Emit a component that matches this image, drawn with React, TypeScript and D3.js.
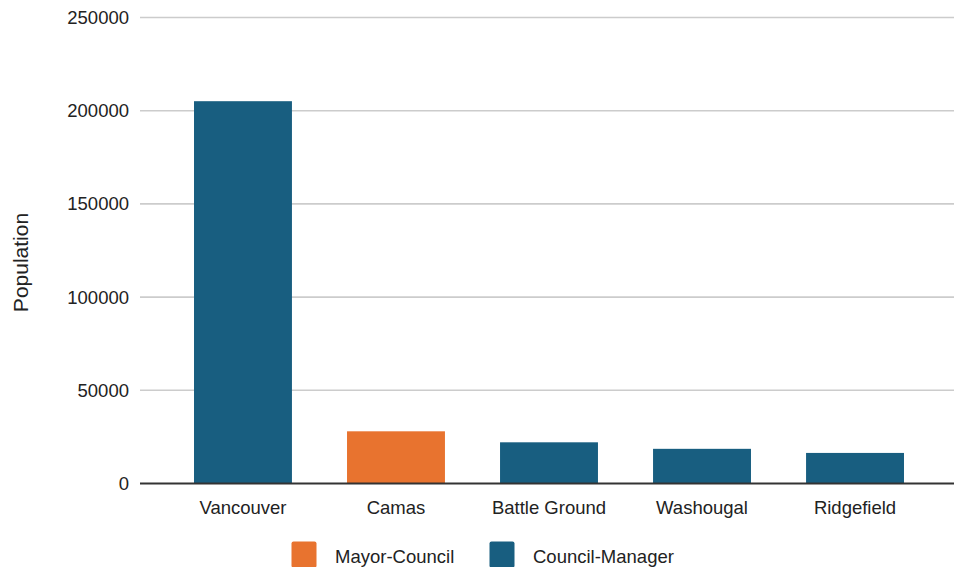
import React from "react";
import * as d3 from "d3";

const cities = ["Vancouver", "Camas", "Battle Ground", "Washougal", "Ridgefield"];
const population = [205100, 28000, 22100, 18600, 16400];
const governmentType = ["Council-Manager", "Mayor-Council", "Council-Manager", "Council-Manager", "Council-Manager"];
const legendLabels = ["Mayor-Council", "Council-Manager"];
const yTicks = [0, 50000, 100000, 150000, 200000, 250000];

const W = 954;
const H = 567;
const FONT = "'Liberation Sans', Arial, Helvetica, sans-serif";
const colorScale = d3
  .scaleOrdinal<string, string>()
  .domain(legendLabels)
  .range(["#e8732f", "#185e80"]);

export default function App() {
  const x = d3
    .scaleBand<string>()
    .domain(cities)
    .range([140, 958])
    .paddingInner(0.36)
    .paddingOuter(0.353);
  const y = d3.scaleLinear().domain([0, 250000]).range([483.5, 17.5]);

  return (
    <div>
      <style>{`body{margin:0}`}</style>
      <svg width={W} height={H} style={{ display: "block", background: "#fff" }} fontFamily={FONT}>
        {yTicks.map((t) => (
          <g key={t}>
            {t !== 0 && (
              <line x1={140} x2={W} y1={y(t)} y2={y(t)} stroke="#cccccc" strokeWidth={1.6} />
            )}
            <text x={129} y={y(t)} dy="0.35em" textAnchor="end" fontSize={18.5} fill="#222">
              {t}
            </text>
          </g>
        ))}
        {cities.map((c, i) => (
          <rect
            key={c}
            x={x(c)}
            y={y(population[i])}
            width={x.bandwidth()}
            height={y(0) - y(population[i])}
            fill={colorScale(governmentType[i])}
          />
        ))}
        <line x1={140} x2={W} y1={y(0)} y2={y(0)} stroke="#333" strokeWidth={2} />
        {cities.map((c) => (
          <text
            key={c}
            x={(x(c) as number) + x.bandwidth() / 2}
            y={514}
            textAnchor="middle"
            fontSize={18.5}
            fill="#222"
          >
            {c}
          </text>
        ))}
        <text
          transform="translate(27.5,262.5) rotate(-90)"
          textAnchor="middle"
          fontSize={21}
          fill="#222"
        >
          Population
        </text>
        {legendLabels.map((l, i) => {
          const lx = i === 0 ? 291.5 : 489.5;
          return (
            <g key={l}>
              <rect x={lx} y={541.5} width={25} height={26} rx={2} fill={colorScale(l)} />
              <text x={lx + 43.5} y={563} fontSize={18.5} fill="#222">
                {l}
              </text>
            </g>
          );
        })}
      </svg>
    </div>
  );
}
